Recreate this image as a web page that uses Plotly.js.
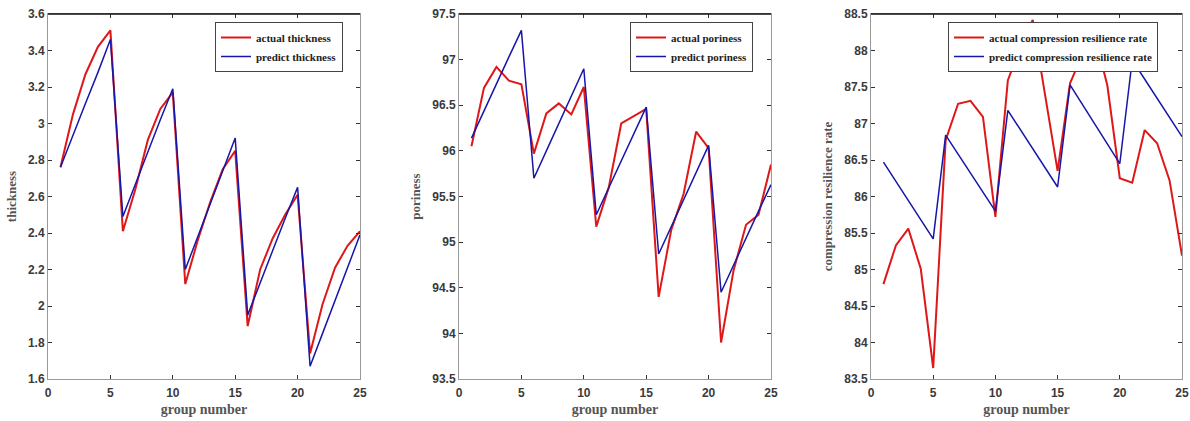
<!DOCTYPE html>
<html>
<head>
<meta charset="utf-8">
<script src="https://cdn.plot.ly/plotly-3.0.1.min.js"></script>
<style>
html, body { margin: 0; padding: 0; background: #fff; }
#chart { width: 1190px; height: 421px; }
</style>
</head>
<body>
<div id="chart"></div>
<script>
const groupNumber = [1,2,3,4,5,6,7,8,9,10,11,12,13,14,15,16,17,18,19,20,21,22,23,24,25];

const actualThickness  = [2.76,3.05,3.27,3.42,3.51, 2.41,2.64,2.91,3.08,3.17, 2.12,2.36,2.57,2.75,2.85, 1.89,2.20,2.37,2.50,2.61, 1.74,2.01,2.21,2.33,2.41];
const predictThickness = [2.76,2.94,3.11,3.28,3.46, 2.49,2.67,2.84,3.02,3.19, 2.20,2.38,2.56,2.74,2.92, 1.95,2.13,2.30,2.48,2.65, 1.67,1.85,2.03,2.21,2.39];

const actualPoriness  = [96.05,96.69,96.92,96.77,96.73, 95.97,96.41,96.52,96.40,96.70, 95.17,95.60,96.30,96.38,96.46, 94.40,95.13,95.53,96.21,96.03, 93.90,94.69,95.19,95.30,95.85];
const predictPoriness = [96.14,96.44,96.73,97.03,97.32, 95.70,96.00,96.30,96.60,96.90, 95.30,95.60,95.89,96.19,96.48, 94.87,95.17,95.47,95.76,96.06, 94.45,94.75,95.04,95.34,95.63];

const actualResilience  = [84.80,85.33,85.56,85.01,83.65, 86.77,87.27,87.31,87.09,85.72, 87.59,88.05,88.42,87.38,86.35, 87.55,87.95,88.20,87.52,86.25, 86.19,86.91,86.73,86.22,85.19];
const predictResilience = [86.47,86.21,85.95,85.68,85.42, 86.84,86.58,86.32,86.06,85.80, 87.18,86.92,86.65,86.39,86.13, 87.53,87.26,86.99,86.72,86.45, 87.87,87.61,87.35,87.08,86.82];

const yTitles = ["thickness", "poriness", "compression resilience rate"];
const xTitle = "group number";
const legendNames = [
  ["actual thickness", "predict thickness"],
  ["actual poriness", "predict poriness"],
  ["actual compression resilience rate", "predict compression resilience rate"]
];
const yRanges = [[1.6, 3.6], [93.5, 97.5], [83.5, 88.5]];
const yDticks = [0.2, 0.5, 0.5];

const W = 1190, H = 421;
const xDomainsPx = [[48, 360], [459, 771], [871, 1182]];
const yDomainPx = [14, 379];
const legendPosPx = [[215, 22], [630, 22], [948, 22]];

const actualSeries = [actualThickness, actualPoriness, actualResilience];
const predictSeries = [predictThickness, predictPoriness, predictResilience];

const RED = "rgb(222,24,24)";
const BLUE = "rgb(22,22,170)";

const traces = [];
const layout = {
  width: W, height: H,
  margin: {l: 0, r: 0, t: 0, b: 0},
  paper_bgcolor: "#fff",
  plot_bgcolor: "#fff",
  showlegend: true,
  shapes: []
};

const tickFont = {family: "Liberation Sans, Arial, sans-serif", size: 12, color: "#3a3a3a", weight: "bold"};
const titleFont = {family: "Liberation Serif, Times New Roman, serif", size: 14, color: "#555", weight: "bold"};
const legendFont = {family: "Liberation Serif, Times New Roman, serif", size: 11, color: "#222", weight: "bold"};

for (let i = 0; i < 3; i++) {
  const sfx = i === 0 ? "" : String(i + 1);
  const xa = "x" + sfx, ya = "y" + sfx;
  const lg = "legend" + sfx;
  traces.push({
    x: groupNumber, y: actualSeries[i], type: "scatter", mode: "lines",
    name: legendNames[i][0], xaxis: xa, yaxis: ya, legend: lg,
    line: {color: RED, width: 2}
  });
  traces.push({
    x: groupNumber, y: predictSeries[i], type: "scatter", mode: "lines",
    name: legendNames[i][1], xaxis: xa, yaxis: ya, legend: lg,
    line: {color: BLUE, width: 1.5}
  });
  layout["xaxis" + sfx] = {
    domain: [xDomainsPx[i][0] / W, xDomainsPx[i][1] / W],
    anchor: ya,
    range: [0, 25], dtick: 5, tick0: 0,
    showgrid: false, zeroline: false,
    showline: true, linecolor: "#999", linewidth: 1, mirror: "ticks",
    ticks: "inside", ticklen: 4, tickcolor: "#333",
    tickfont: tickFont, ticklabelstandoff: 3,
    title: {text: xTitle, font: titleFont, standoff: 4}
  };
  layout["yaxis" + sfx] = {
    domain: [1 - yDomainPx[1] / H, 1 - yDomainPx[0] / H],
    anchor: xa,
    range: yRanges[i], dtick: yDticks[i], tick0: yRanges[i][0],
    showgrid: false, zeroline: false,
    showline: true, linecolor: "#999", linewidth: 1, mirror: "ticks",
    ticks: "inside", ticklen: 4, tickcolor: "#333",
    tickfont: tickFont,
    title: {text: yTitles[i], font: Object.assign({}, titleFont, {size: 13}), standoff: 8}
  };
  layout[lg] = {
    x: legendPosPx[i][0] / W, y: 1 - legendPosPx[i][1] / H,
    xanchor: "left", yanchor: "top",
    bgcolor: "#fff", bordercolor: "#444", borderwidth: 1,
    font: legendFont,
    tracegroupgap: 0
  };
  layout.shapes.push({
    type: "line", xref: xa + " domain", yref: ya + " domain",
    x0: 0, x1: 1, y0: 1, y1: 1,
    line: {color: "#111", width: 1.5}
  });
}

Plotly.newPlot("chart", traces, layout, {displayModeBar: false, staticPlot: true});
</script>
</body>
</html>
